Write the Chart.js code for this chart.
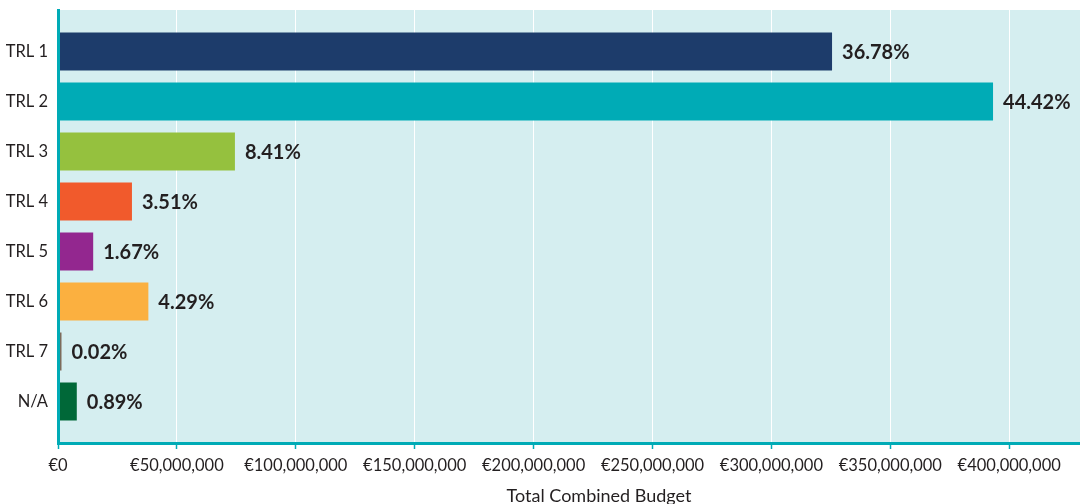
<!DOCTYPE html>
<html>
<head>
<meta charset="utf-8">
<script src="https://cdn.jsdelivr.net/npm/chart.js@4"></script>
<style>
  html, body { margin: 0; padding: 0; background: #ffffff; }
  #wrap { width: 1080px; height: 504px; overflow: hidden; position: relative; }
</style>
</head>
<body>
<div id="wrap"><canvas id="graficoTrl" width="1140" height="504"></canvas></div>
<script>
// categorias e valores
const categorias = ['TRL 1', 'TRL 2', 'TRL 3', 'TRL 4', 'TRL 5', 'TRL 6', 'TRL 7', 'N/A'];
const orcamentos = [325500000, 393200000, 74400000, 31100000, 14800000, 38000000, 180000, 7900000];
const percentuais = ['36.78%', '44.42%', '8.41%', '3.51%', '1.67%', '4.29%', '0.02%', '0.89%'];
const cores = ['#1d3c6b', '#00abb6', '#95c13e', '#f15a2c', '#93278f', '#fbb040', '#7d6b5b', '#006838'];
const ticksX = [0, 50000000, 100000000, 150000000, 200000000, 250000000, 300000000, 350000000, 400000000];

const TEAL = '#00abb6';
const FUNDO = '#d5eef0';
const TEXTO = '#231f20';

// fundo da area do grafico
const pluginFundo = {
    id: 'fundo',
    beforeDraw(chart) {
        const { ctx, chartArea } = chart;
        ctx.save();
        ctx.fillStyle = FUNDO;
        ctx.fillRect(chartArea.left, chartArea.top, chartArea.right - chartArea.left, chartArea.bottom - chartArea.top);
        ctx.restore();
    }
};

// rotulos de porcentagem no fim de cada barra
const pluginRotulos = {
    id: 'rotulos',
    afterDatasetsDraw(chart) {
        const { ctx } = chart;
        const meta = chart.getDatasetMeta(0);
        ctx.save();
        ctx.font = 'bold 20px Lato';
        ctx.fillStyle = TEXTO;
        ctx.textAlign = 'left';
        ctx.textBaseline = 'middle';
        meta.data.forEach(function (barra, i) {
            ctx.fillText(percentuais[i], barra.x + 10, barra.y + 1);
        });
        ctx.restore();
    }
};

const dadosBarras = orcamentos.map(function (v, i) { return { x: v, y: i }; });

const config = {
    type: 'bar',
    data: {
        datasets: [{
            data: dadosBarras,
            backgroundColor: cores,
            borderWidth: 0,
            barPercentage: 0.76,
            categoryPercentage: 1.0,
            minBarLength: 3.5
        }]
    },
    options: {
        indexAxis: 'y',
        responsive: false,
        animation: false,
        layout: { padding: { top: 10, right: 0, bottom: 0, left: 0 } },
        plugins: {
            legend: { display: false },
            tooltip: { enabled: false }
        },
        scales: {
            x: {
                type: 'linear',
                min: 0,
                max: 455000000,
                afterBuildTicks(scale) {
                    scale.ticks = ticksX.map(function (v) { return { value: v }; });
                },
                afterFit(scale) { scale.height = 61; },
                grid: {
                    color: '#ffffff',
                    lineWidth: 1,
                    drawTicks: true,
                    tickLength: 6,
                    tickColor: TEAL,
                    tickWidth: 1.5
                },
                border: { display: true, color: TEAL, width: 3, z: 1 },
                ticks: {
                    padding: 7,
                    maxRotation: 0,
                    color: TEXTO,
                    font: { family: 'Lato', size: 16.5 },
                    callback: function (v) { return '€' + Number(v).toLocaleString('en-US'); }
                },
                title: {
                    display: true,
                    text: 'Total Combined Budget',
                    color: TEXTO,
                    font: { family: 'Lato', size: 18 },
                    padding: { top: 4, bottom: -3 }
                }
            },
            y: {
                type: 'linear',
                reverse: true,
                offset: false,
                min: -0.83,
                max: 7.83,
                afterBuildTicks(scale) {
                    scale.ticks = categorias.map(function (c, i) { return { value: i }; });
                },
                afterFit(scale) {
                    scale.width = 58;
                    scale.paddingTop = 0;
                    scale.paddingBottom = 0;
                },
                grid: { display: false, drawTicks: false, offset: false },
                border: { display: true, color: TEAL, width: 3, z: 1 },
                ticks: {
                    padding: 10,
                    color: TEXTO,
                    font: { family: 'Lato', size: 16.5 },
                    callback: function (v) { return categorias[v]; }
                }
            }
        }
    },
    plugins: [pluginFundo, pluginRotulos]
};

let graficoTrl = new Chart(document.getElementById('graficoTrl'), config);
</script>
</body>
</html>
